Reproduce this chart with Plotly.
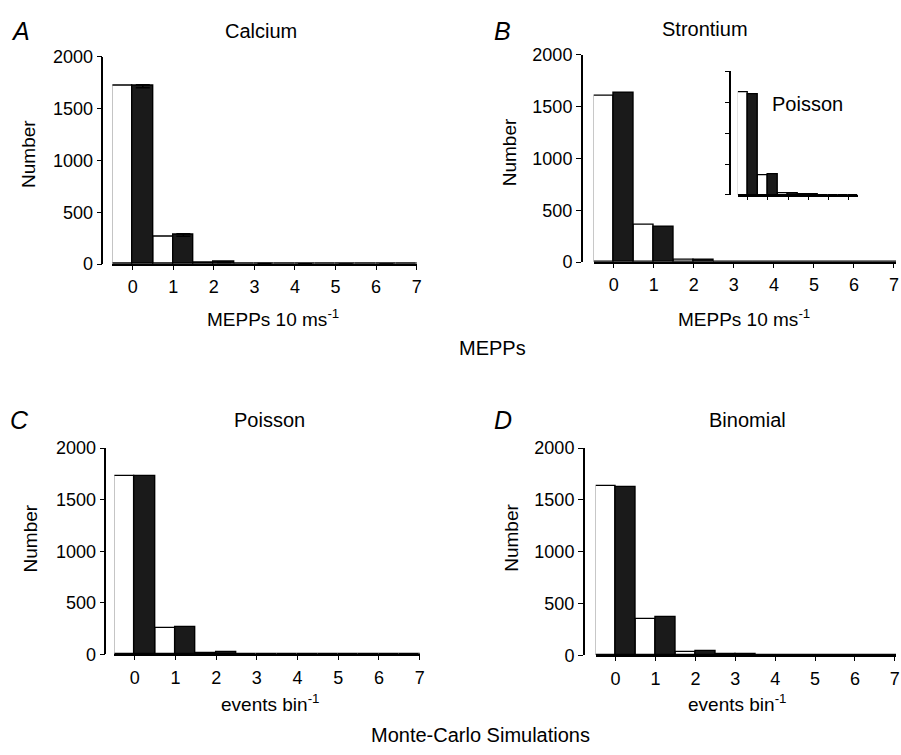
import plotly.graph_objects as go

W, H = 901, 755

# ---------------- data ----------------
bins = [0, 1, 2, 3, 4, 5, 6, 7]

calcium_obs = [1720, 262, 15, 4, 2, 1, 0, 0]
calcium_pred = [1716, 280, 18, 5, 3, 1, 0, 0]
calcium_err = [14, 12, 2, 1, 0, 0, 0, 0]

strontium_obs = [1606, 357, 22, 8, 4, 1, 0, 0]
strontium_pred = [1634, 340, 26, 8, 4, 1, 0, 0]

inset_bins = [0, 1, 2, 3, 4, 5]
inset_obs = [1667, 317, 25, 5, 2, 1]
inset_pred = [1635, 333, 30, 6, 2, 1]

poisson_obs = [1726, 255, 18, 4, 1, 0, 0, 0]
poisson_pred = [1730, 262, 20, 5, 1, 0, 0, 0]

binomial_obs = [1634, 355, 35, 15, 4, 1, 0, 0]
binomial_pred = [1624, 370, 45, 14, 4, 1, 0, 0]

y_ticks = [0, 500, 1000, 1500, 2000]
x_ticks = [0, 1, 2, 3, 4, 5, 6, 7]

FONT = "Liberation Sans, Arial, Helvetica, sans-serif"


def fx(px):
    return px / W


def fy(py):
    return 1 - py / H


fig = go.Figure()


def add_pair(obs, pred, xs, xa, ya, err=None):
    fig.add_trace(go.Bar(
        x=xs, y=obs, offset=-0.5, width=0.5,
        marker=dict(color="white", line=dict(color="black", width=1.4)),
        xaxis=xa, yaxis=ya, showlegend=False, hoverinfo="skip",
    ))
    kw = {}
    if err is not None:
        kw["error_y"] = dict(type="data", array=err, visible=True,
                             color="black", thickness=1.5, width=7)
    fig.add_trace(go.Bar(
        x=xs, y=pred, offset=0.0, width=0.5,
        marker=dict(color="#1a1a1a", line=dict(color="black", width=1.4)),
        xaxis=xa, yaxis=ya, showlegend=False, hoverinfo="skip", **kw,
    ))


add_pair(calcium_obs, calcium_pred, bins, "x", "y", calcium_err)
add_pair(strontium_obs, strontium_pred, bins, "x2", "y2")
add_pair(poisson_obs, poisson_pred, bins, "x3", "y3")
add_pair(binomial_obs, binomial_pred, bins, "x4", "y4")
add_pair(inset_obs, inset_pred, inset_bins, "x5", "y5")

tickfont = dict(family=FONT, size=18, color="black")


def xaxis_cfg(x0, x1, xmax, anchor, labels=True, ticks=x_ticks):
    return dict(
        domain=[fx(x0), fx(x1)], range=[-0.5, xmax], anchor=anchor,
        showline=True, linecolor="black", linewidth=1.5,
        ticks="outside", ticklen=4, tickwidth=1, tickcolor="black",
        tickvals=ticks, ticktext=[str(t) for t in ticks],
        showticklabels=labels, tickfont=tickfont, ticklabelstandoff=2,
        showgrid=False, zeroline=False, fixedrange=True,
    )


def yaxis_cfg(ybot, ytop, xpos, labels=True):
    return dict(
        domain=[fy(ybot), fy(ytop)], range=[0, 2000], anchor="free",
        position=fx(xpos),
        showline=True, linecolor="black", linewidth=1.5,
        ticks="outside", ticklen=5, tickwidth=1, tickcolor="black",
        tickvals=y_ticks, ticktext=[str(t) for t in y_ticks],
        showticklabels=labels, tickfont=tickfont,
        showgrid=False, zeroline=False, fixedrange=True,
    )


fig.update_layout(
    width=W, height=H,
    margin=dict(l=0, r=0, t=0, b=0),
    paper_bgcolor="white", plot_bgcolor="rgba(0,0,0,0)",
    barmode="overlay", bargap=0,
    font=dict(family=FONT, color="black"),
    xaxis=xaxis_cfg(113, 419, 7.0, "y"),
    yaxis=yaxis_cfg(261, 48, 103),
    xaxis2=xaxis_cfg(597, 901, 7.05, "y2"),
    yaxis2=yaxis_cfg(259, 46, 585),
    xaxis3=xaxis_cfg(115, 422, 7.0, "y3"),
    yaxis3=yaxis_cfg(662, 450, 106),
    xaxis4=xaxis_cfg(599, 901, 7.03, "y4"),
    yaxis4=yaxis_cfg(663, 450, 587),
    xaxis5=xaxis_cfg(742, 863, 5.5, "y5", labels=False, ticks=inset_bins),
    yaxis5=yaxis_cfg(190, 63, 734, labels=False),
)
fig.layout.xaxis5.ticklen = 3
fig.layout.yaxis5.ticklen = 4

annots = []


def txt(s, x, y, size=20, italic=False, angle=0):
    annots.append(dict(
        text=("<i>%s</i>" % s) if italic else s,
        x=fx(x), y=fy(y), xref="paper", yref="paper",
        xanchor="center", yanchor="middle", showarrow=False,
        font=dict(family=FONT, size=size, color="black"), textangle=angle,
    ))


# panel letters
txt("A", 21, 22, 25, True)
txt("B", 505, 22, 25, True)
txt("C", 20, 421, 25, True)
txt("D", 506, 421, 25, True)
# titles
txt("Calcium", 262, 22)
txt("Strontium", 709, 20)
txt("Poisson", 271, 421)
txt("Binomial", 752, 421)
txt("Poisson", 812, 97)
# y-axis titles
txt("Number", 28, 148, 19, angle=-90)
txt("Number", 512, 146, 19, angle=-90)
txt("Number", 31, 543, 19, angle=-90)
txt("Number", 515, 542, 19, angle=-90)
# x-axis titles
txt("MEPPs 10 ms<sup>-1</sup>", 275, 316, 19)
txt("MEPPs 10 ms<sup>-1</sup>", 748, 316, 19)
txt("events bin<sup>-1</sup>", 272, 712, 19)
txt("events bin<sup>-1</sup>", 741, 712, 19)
# group labels
txt("MEPPs", 495, 347)
txt("Monte-Carlo Simulations", 483, 745)

fig.update_layout(annotations=annots)

fig.write_html("out.html")
